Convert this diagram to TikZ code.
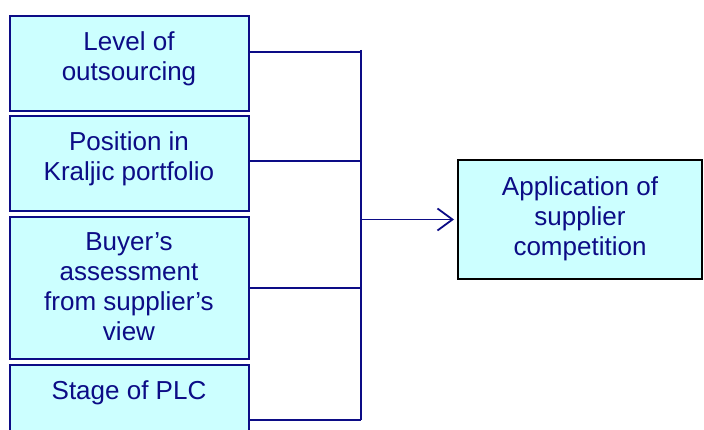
\documentclass[tikz,border=0pt]{standalone}
\usepackage{fontspec}
\setmainfont{Liberation Sans}
\usetikzlibrary{arrows.meta}
\definecolor{boxfill}{HTML}{CCFFFF}
\definecolor{navy}{HTML}{0C0C86}

\begin{document}
\begin{tikzpicture}[x=1pt,y=-1pt,
    factor/.style={draw=navy,line width=2pt,fill=boxfill,minimum width=239pt,inner sep=0pt},
    result/.style={draw=black,line width=2pt,fill=boxfill,minimum width=244pt,minimum height=119pt,inner sep=0pt},
    caption/.style={anchor=north,align=center,text=navy,font=\fontsize{26}{30}\selectfont,inner sep=0pt},
    link/.style={draw=navy,line width=1.8pt}]
  \useasboundingbox (0,0) rectangle (704,430);
  \clip (0,0) rectangle (704,430);
  \node[factor,minimum height=95pt] (lvl) at (129,63.5) {};
  \node[factor,minimum height=95pt] (kra) at (129,163.5) {};
  \node[factor,minimum height=142pt] (buy) at (129,288) {};
  \node[factor,minimum height=105pt] (plc) at (129,417.5) {};
  \node[result] (app) at (580,219.5) {};
  \node[caption] (lvltxt) at ([yshift=-16pt]lvl.north) {Level of\\outsourcing};
  \node[caption] (kratxt) at ([yshift=-16pt]kra.north) {Position in\\Kraljic portfolio};
  \node[caption] (buytxt) at ([yshift=-16pt]buy.north) {Buyer’s\\assessment\\from supplier’s\\view};
  \node[caption] (plctxt) at ([yshift=-16pt]plc.north) {Stage of PLC};
  \node[caption] (apptxt) at ([yshift=-17pt]app.north) {Application of\\supplier\\competition};
  \coordinate (b0) at (361,50);
  \coordinate (b1) at (361,52);
  \coordinate (b2) at (361,161);
  \coordinate (b3) at (361,288);
  \coordinate (b4) at (361,420);
  \draw[link] (lvl.east |- b1) -- (b1);
  \draw[link] (kra.east |- b2) -- (b2);
  \draw[link] (buy.east |- b3) -- (b3);
  \draw[link] (plc.east |- b4) -- (b4);
  \draw[link] (b0) -- (b4);
  \draw[link,-{Straight Barb[length=15pt,width=22pt]},shorten >=3pt] (b0 |- app.west) -- (app.west);
\end{tikzpicture}
\end{document}
